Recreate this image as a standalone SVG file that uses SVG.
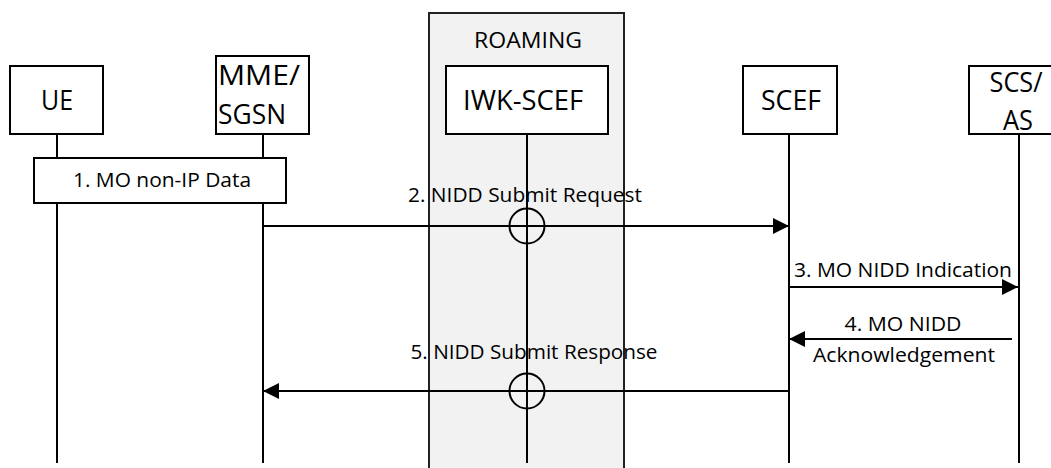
<svg xmlns="http://www.w3.org/2000/svg" width="1051" height="468" viewBox="0 0 1051 468">
<defs>
<style>
.box{fill:#fff;stroke:#000;stroke-width:2}
.life{stroke:#000;stroke-width:2;fill:none}
.msg{stroke:#000;stroke-width:2;fill:none}
.big{font-family:"Open Sans","Lato",sans-serif;font-size:27.5px;fill:#000}
.lbl{font-family:"Open Sans","Lato",sans-serif;font-size:19.5px;fill:#000}
.roam{font-family:"Open Sans","Lato",sans-serif;font-size:21px;fill:#000}
.ring{fill:#fff;fill-opacity:0;stroke:#000;stroke-width:2}
</style>
<marker id="ah" viewBox="0 0 16 16" refX="16" refY="8" markerWidth="16" markerHeight="16" markerUnits="userSpaceOnUse" orient="auto">
<path d="M0,0 L16,8 L0,16 Z" fill="#000"/>
</marker>
</defs>
<rect width="1051" height="468" fill="#fff"/>
<g id="roaming">
<rect x="429" y="13" width="195" height="470" fill="#f2f2f2" stroke="#222" stroke-width="2"/>
<text class="roam" x="528" y="48" text-anchor="middle" textLength="108" lengthAdjust="spacingAndGlyphs">ROAMING</text>
</g>
<g id="lifelines">
<line class="life" x1="57" y1="134" x2="57" y2="463"/>
<line class="life" x1="263" y1="134" x2="263" y2="463"/>
<line class="life" x1="527" y1="134" x2="527" y2="463"/>
<line class="life" x1="789" y1="134" x2="789" y2="463"/>
<line class="life" x1="1019" y1="134" x2="1019" y2="463"/>
</g>
<g id="ue">
<rect class="box" x="10" y="66" width="93" height="68"/>
<text class="big" x="57" y="110" text-anchor="middle" textLength="32" lengthAdjust="spacingAndGlyphs">UE</text>
</g>
<g id="mme">
<rect class="box" x="216" y="56" width="93" height="78"/>
<text class="big" x="218" y="85" textLength="82" lengthAdjust="spacingAndGlyphs">MME/</text>
<text class="big" x="218" y="124" textLength="68" lengthAdjust="spacingAndGlyphs">SGSN</text>
</g>
<g id="iwk">
<rect class="box" x="446" y="66" width="162" height="68"/>
<text class="big" x="523" y="110" text-anchor="middle" textLength="120" lengthAdjust="spacingAndGlyphs">IWK-SCEF</text>
</g>
<g id="scef">
<rect class="box" x="743" y="66" width="94" height="68"/>
<text class="big" x="791" y="110" text-anchor="middle" textLength="60" lengthAdjust="spacingAndGlyphs">SCEF</text>
</g>
<g id="scs">
<rect class="box" x="969" y="66" width="100" height="68"/>
<text class="big" x="1016" y="92" text-anchor="middle" textLength="53" lengthAdjust="spacingAndGlyphs">SCS/</text>
<text class="big" x="1018" y="130" text-anchor="middle" textLength="30" lengthAdjust="spacingAndGlyphs">AS</text>
</g>
<g id="step1">
<rect class="box" x="34" y="158" width="252" height="45"/>
<text class="lbl" x="162" y="187" text-anchor="middle" textLength="178" lengthAdjust="spacingAndGlyphs">1. MO non-IP Data</text>
</g>
<g id="connectors">
<line class="msg" x1="263" y1="226" x2="789" y2="226" marker-end="url(#ah)"/>
<text class="lbl" x="525" y="202" text-anchor="middle" textLength="234" lengthAdjust="spacingAndGlyphs">2. NIDD Submit Request</text>
<circle class="ring" cx="527" cy="226" r="17.5"/>
<line class="msg" x1="789" y1="287" x2="1018" y2="287" marker-end="url(#ah)"/>
<text class="lbl" x="903" y="277" text-anchor="middle" textLength="218" lengthAdjust="spacingAndGlyphs">3. MO NIDD Indication</text>
<line class="msg" x1="1012" y1="339" x2="789" y2="339" marker-end="url(#ah)"/>
<text class="lbl" x="903" y="331" text-anchor="middle" textLength="117" lengthAdjust="spacingAndGlyphs">4. MO NIDD</text>
<text class="lbl" x="904" y="362" text-anchor="middle" textLength="182" lengthAdjust="spacingAndGlyphs">Acknowledgement</text>
<line class="msg" x1="789" y1="391" x2="263" y2="391" marker-end="url(#ah)"/>
<text class="lbl" x="534" y="359" text-anchor="middle" textLength="247" lengthAdjust="spacingAndGlyphs">5. NIDD Submit Response</text>
<circle class="ring" cx="527" cy="391" r="17.5"/>
</g>
</svg>
